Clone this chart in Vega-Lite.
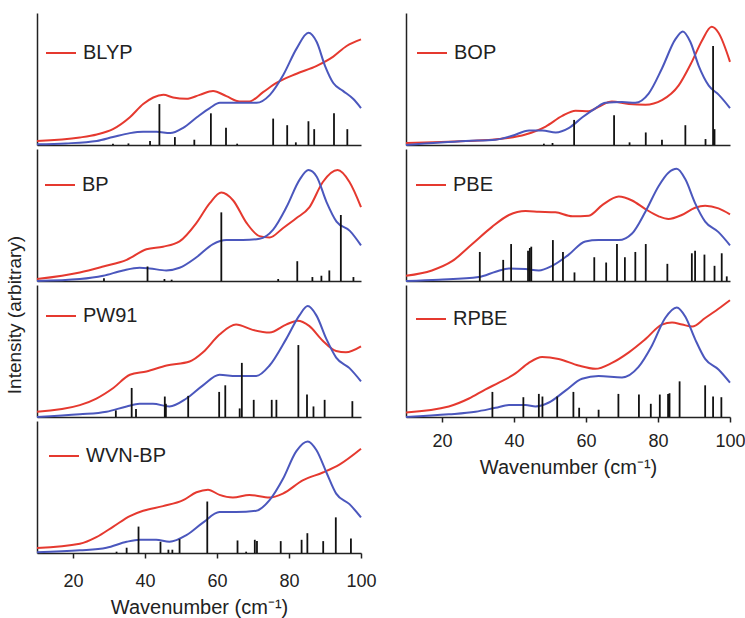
{
  "$schema": "https://vega.github.io/schema/vega-lite/v6.json",
  "background": "white",
  "padding": {"left": 5, "top": 13, "right": 0, "bottom": 2},
  "datasets": {
    "curves": [
      {"m":"BLYP","s":"exp","x":10,"y":0.005},{"m":"BLYP","s":"exp","x":18,"y":0.012},{"m":"BLYP","s":"exp","x":26.6,"y":0.03},{"m":"BLYP","s":"exp","x":31.1,"y":0.06},{"m":"BLYP","s":"exp","x":35.8,"y":0.09},{"m":"BLYP","s":"exp","x":39.5,"y":0.1},{"m":"BLYP","s":"exp","x":43.2,"y":0.1},{"m":"BLYP","s":"exp","x":47,"y":0.09},{"m":"BLYP","s":"exp","x":50.6,"y":0.13},{"m":"BLYP","s":"exp","x":54.4,"y":0.21},{"m":"BLYP","s":"exp","x":58,"y":0.28},{"m":"BLYP","s":"exp","x":60.8,"y":0.32},{"m":"BLYP","s":"exp","x":65.5,"y":0.32},{"m":"BLYP","s":"exp","x":71,"y":0.32},{"m":"BLYP","s":"exp","x":74.7,"y":0.38},{"m":"BLYP","s":"exp","x":78.4,"y":0.53},{"m":"BLYP","s":"exp","x":82.1,"y":0.73},{"m":"BLYP","s":"exp","x":85.4,"y":0.85},{"m":"BLYP","s":"exp","x":87.7,"y":0.78},{"m":"BLYP","s":"exp","x":90,"y":0.6},{"m":"BLYP","s":"exp","x":92.3,"y":0.47},{"m":"BLYP","s":"exp","x":95,"y":0.41},{"m":"BLYP","s":"exp","x":97.8,"y":0.35},{"m":"BLYP","s":"exp","x":100,"y":0.28},
      {"m":"BLYP","s":"calc","x":10,"y":0.03},{"m":"BLYP","s":"calc","x":21.9,"y":0.057},{"m":"BLYP","s":"calc","x":26.6,"y":0.08},{"m":"BLYP","s":"calc","x":31.1,"y":0.12},{"m":"BLYP","s":"calc","x":35.8,"y":0.21},{"m":"BLYP","s":"calc","x":39.5,"y":0.31},{"m":"BLYP","s":"calc","x":42.3,"y":0.36},{"m":"BLYP","s":"calc","x":45.1,"y":0.38},{"m":"BLYP","s":"calc","x":47.8,"y":0.36},{"m":"BLYP","s":"calc","x":51.5,"y":0.35},{"m":"BLYP","s":"calc","x":55.2,"y":0.38},{"m":"BLYP","s":"calc","x":58.9,"y":0.41},{"m":"BLYP","s":"calc","x":62.6,"y":0.37},{"m":"BLYP","s":"calc","x":66.3,"y":0.33},{"m":"BLYP","s":"calc","x":69,"y":0.33},{"m":"BLYP","s":"calc","x":72.8,"y":0.4},{"m":"BLYP","s":"calc","x":76.5,"y":0.47},{"m":"BLYP","s":"calc","x":82.1,"y":0.54},{"m":"BLYP","s":"calc","x":87.7,"y":0.6},{"m":"BLYP","s":"calc","x":92.3,"y":0.67},{"m":"BLYP","s":"calc","x":96,"y":0.75},{"m":"BLYP","s":"calc","x":100,"y":0.8},

      {"m":"BP","s":"exp","x":10,"y":0.0},{"m":"BP","s":"exp","x":21.9,"y":0.015},{"m":"BP","s":"exp","x":28.4,"y":0.04},{"m":"BP","s":"exp","x":33.9,"y":0.08},{"m":"BP","s":"exp","x":38.5,"y":0.1},{"m":"BP","s":"exp","x":41.3,"y":0.095},{"m":"BP","s":"exp","x":45.9,"y":0.08},{"m":"BP","s":"exp","x":49.6,"y":0.1},{"m":"BP","s":"exp","x":54.3,"y":0.18},{"m":"BP","s":"exp","x":58.9,"y":0.28},{"m":"BP","s":"exp","x":62.6,"y":0.31},{"m":"BP","s":"exp","x":67.2,"y":0.31},{"m":"BP","s":"exp","x":71.8,"y":0.32},{"m":"BP","s":"exp","x":75.6,"y":0.39},{"m":"BP","s":"exp","x":79.3,"y":0.56},{"m":"BP","s":"exp","x":83,"y":0.77},{"m":"BP","s":"exp","x":85.4,"y":0.84},{"m":"BP","s":"exp","x":87.7,"y":0.79},{"m":"BP","s":"exp","x":90.4,"y":0.6},{"m":"BP","s":"exp","x":93.2,"y":0.45},{"m":"BP","s":"exp","x":96.9,"y":0.38},{"m":"BP","s":"exp","x":100,"y":0.27},
      {"m":"BP","s":"calc","x":10,"y":0.015},{"m":"BP","s":"calc","x":21.9,"y":0.065},{"m":"BP","s":"calc","x":28.4,"y":0.11},{"m":"BP","s":"calc","x":34.9,"y":0.16},{"m":"BP","s":"calc","x":40.4,"y":0.24},{"m":"BP","s":"calc","x":45,"y":0.26},{"m":"BP","s":"calc","x":49.6,"y":0.3},{"m":"BP","s":"calc","x":54.3,"y":0.44},{"m":"BP","s":"calc","x":58,"y":0.59},{"m":"BP","s":"calc","x":61.2,"y":0.67},{"m":"BP","s":"calc","x":64.5,"y":0.61},{"m":"BP","s":"calc","x":68.2,"y":0.44},{"m":"BP","s":"calc","x":71.8,"y":0.34},{"m":"BP","s":"calc","x":74.6,"y":0.33},{"m":"BP","s":"calc","x":78.3,"y":0.4},{"m":"BP","s":"calc","x":82,"y":0.475},{"m":"BP","s":"calc","x":85.7,"y":0.56},{"m":"BP","s":"calc","x":89.4,"y":0.75},{"m":"BP","s":"calc","x":93.5,"y":0.84},{"m":"BP","s":"calc","x":96.8,"y":0.75},{"m":"BP","s":"calc","x":100,"y":0.56},

      {"m":"PW91","s":"exp","x":10,"y":0.0},{"m":"PW91","s":"exp","x":21.9,"y":0.02},{"m":"PW91","s":"exp","x":29.3,"y":0.04},{"m":"PW91","s":"exp","x":34.9,"y":0.08},{"m":"PW91","s":"exp","x":38.5,"y":0.1},{"m":"PW91","s":"exp","x":42.2,"y":0.1},{"m":"PW91","s":"exp","x":46.8,"y":0.08},{"m":"PW91","s":"exp","x":51.5,"y":0.14},{"m":"PW91","s":"exp","x":56.1,"y":0.24},{"m":"PW91","s":"exp","x":60.7,"y":0.32},{"m":"PW91","s":"exp","x":65.3,"y":0.31},{"m":"PW91","s":"exp","x":70.9,"y":0.31},{"m":"PW91","s":"exp","x":74.6,"y":0.39},{"m":"PW91","s":"exp","x":79.2,"y":0.59},{"m":"PW91","s":"exp","x":82.9,"y":0.77},{"m":"PW91","s":"exp","x":85.2,"y":0.84},{"m":"PW91","s":"exp","x":87.6,"y":0.77},{"m":"PW91","s":"exp","x":90.4,"y":0.59},{"m":"PW91","s":"exp","x":93.1,"y":0.45},{"m":"PW91","s":"exp","x":96.8,"y":0.37},{"m":"PW91","s":"exp","x":100,"y":0.27},
      {"m":"PW91","s":"calc","x":10,"y":0.04},{"m":"PW91","s":"calc","x":21.9,"y":0.09},{"m":"PW91","s":"calc","x":26.5,"y":0.14},{"m":"PW91","s":"calc","x":31.2,"y":0.22},{"m":"PW91","s":"calc","x":35.8,"y":0.32},{"m":"PW91","s":"calc","x":40.4,"y":0.345},{"m":"PW91","s":"calc","x":46,"y":0.39},{"m":"PW91","s":"calc","x":52.4,"y":0.42},{"m":"PW91","s":"calc","x":56.1,"y":0.49},{"m":"PW91","s":"calc","x":60.7,"y":0.625},{"m":"PW91","s":"calc","x":65.3,"y":0.7},{"m":"PW91","s":"calc","x":69.9,"y":0.66},{"m":"PW91","s":"calc","x":74.6,"y":0.64},{"m":"PW91","s":"calc","x":79.2,"y":0.7},{"m":"PW91","s":"calc","x":82.4,"y":0.73},{"m":"PW91","s":"calc","x":85.6,"y":0.69},{"m":"PW91","s":"calc","x":89.3,"y":0.58},{"m":"PW91","s":"calc","x":93.1,"y":0.5},{"m":"PW91","s":"calc","x":95.8,"y":0.49},{"m":"PW91","s":"calc","x":100,"y":0.535},

      {"m":"WVN-BP","s":"exp","x":10,"y":0.005},{"m":"WVN-BP","s":"exp","x":21.9,"y":0.02},{"m":"WVN-BP","s":"exp","x":29.3,"y":0.04},{"m":"WVN-BP","s":"exp","x":34.9,"y":0.085},{"m":"WVN-BP","s":"exp","x":38.5,"y":0.1},{"m":"WVN-BP","s":"exp","x":43.1,"y":0.1},{"m":"WVN-BP","s":"exp","x":46.8,"y":0.085},{"m":"WVN-BP","s":"exp","x":51.5,"y":0.135},{"m":"WVN-BP","s":"exp","x":56.1,"y":0.23},{"m":"WVN-BP","s":"exp","x":60.7,"y":0.31},{"m":"WVN-BP","s":"exp","x":65.3,"y":0.31},{"m":"WVN-BP","s":"exp","x":70.9,"y":0.32},{"m":"WVN-BP","s":"exp","x":74.6,"y":0.4},{"m":"WVN-BP","s":"exp","x":78.3,"y":0.56},{"m":"WVN-BP","s":"exp","x":82,"y":0.77},{"m":"WVN-BP","s":"exp","x":85.2,"y":0.845},{"m":"WVN-BP","s":"exp","x":87.6,"y":0.78},{"m":"WVN-BP","s":"exp","x":90.4,"y":0.61},{"m":"WVN-BP","s":"exp","x":93.1,"y":0.45},{"m":"WVN-BP","s":"exp","x":96.8,"y":0.37},{"m":"WVN-BP","s":"exp","x":100,"y":0.27},
      {"m":"WVN-BP","s":"calc","x":10,"y":0.037},{"m":"WVN-BP","s":"calc","x":21.9,"y":0.07},{"m":"WVN-BP","s":"calc","x":26.5,"y":0.12},{"m":"WVN-BP","s":"calc","x":31.2,"y":0.2},{"m":"WVN-BP","s":"calc","x":35.8,"y":0.28},{"m":"WVN-BP","s":"calc","x":39.5,"y":0.32},{"m":"WVN-BP","s":"calc","x":45,"y":0.355},{"m":"WVN-BP","s":"calc","x":50.6,"y":0.4},{"m":"WVN-BP","s":"calc","x":54.3,"y":0.46},{"m":"WVN-BP","s":"calc","x":57.5,"y":0.48},{"m":"WVN-BP","s":"calc","x":60.7,"y":0.44},{"m":"WVN-BP","s":"calc","x":64.4,"y":0.42},{"m":"WVN-BP","s":"calc","x":69,"y":0.44},{"m":"WVN-BP","s":"calc","x":74.6,"y":0.42},{"m":"WVN-BP","s":"calc","x":78.3,"y":0.45},{"m":"WVN-BP","s":"calc","x":83.8,"y":0.55},{"m":"WVN-BP","s":"calc","x":89.4,"y":0.61},{"m":"WVN-BP","s":"calc","x":94,"y":0.67},{"m":"WVN-BP","s":"calc","x":100,"y":0.79},

      {"m":"BOP","s":"exp","x":10,"y":0.0},{"m":"BOP","s":"exp","x":26.6,"y":0.03},{"m":"BOP","s":"exp","x":34.9,"y":0.04},{"m":"BOP","s":"exp","x":39.5,"y":0.07},{"m":"BOP","s":"exp","x":44.2,"y":0.11},{"m":"BOP","s":"exp","x":47.9,"y":0.11},{"m":"BOP","s":"exp","x":51.6,"y":0.095},{"m":"BOP","s":"exp","x":55.3,"y":0.13},{"m":"BOP","s":"exp","x":59,"y":0.21},{"m":"BOP","s":"exp","x":62.7,"y":0.28},{"m":"BOP","s":"exp","x":65.4,"y":0.32},{"m":"BOP","s":"exp","x":70,"y":0.325},{"m":"BOP","s":"exp","x":73.7,"y":0.32},{"m":"BOP","s":"exp","x":77.4,"y":0.39},{"m":"BOP","s":"exp","x":81.1,"y":0.58},{"m":"BOP","s":"exp","x":84.8,"y":0.8},{"m":"BOP","s":"exp","x":86.9,"y":0.86},{"m":"BOP","s":"exp","x":89,"y":0.78},{"m":"BOP","s":"exp","x":91.3,"y":0.6},{"m":"BOP","s":"exp","x":94.1,"y":0.45},{"m":"BOP","s":"exp","x":96.9,"y":0.38},{"m":"BOP","s":"exp","x":100,"y":0.28},
      {"m":"BOP","s":"calc","x":10,"y":0.015},{"m":"BOP","s":"calc","x":26.6,"y":0.03},{"m":"BOP","s":"calc","x":35.8,"y":0.045},{"m":"BOP","s":"calc","x":43.2,"y":0.08},{"m":"BOP","s":"calc","x":48.8,"y":0.14},{"m":"BOP","s":"calc","x":53.4,"y":0.22},{"m":"BOP","s":"calc","x":57.1,"y":0.26},{"m":"BOP","s":"calc","x":60.8,"y":0.255},{"m":"BOP","s":"calc","x":63.5,"y":0.29},{"m":"BOP","s":"calc","x":67.2,"y":0.33},{"m":"BOP","s":"calc","x":71.9,"y":0.31},{"m":"BOP","s":"calc","x":76.5,"y":0.305},{"m":"BOP","s":"calc","x":81.1,"y":0.34},{"m":"BOP","s":"calc","x":85.7,"y":0.45},{"m":"BOP","s":"calc","x":89.4,"y":0.63},{"m":"BOP","s":"calc","x":92.2,"y":0.79},{"m":"BOP","s":"calc","x":94.9,"y":0.895},{"m":"BOP","s":"calc","x":96.8,"y":0.85},{"m":"BOP","s":"calc","x":100,"y":0.63},

      {"m":"PBE","s":"exp","x":10,"y":0.0},{"m":"PBE","s":"exp","x":19.1,"y":0.01},{"m":"PBE","s":"exp","x":30.2,"y":0.03},{"m":"PBE","s":"exp","x":34.9,"y":0.07},{"m":"PBE","s":"exp","x":38.6,"y":0.095},{"m":"PBE","s":"exp","x":43.2,"y":0.09},{"m":"PBE","s":"exp","x":46.9,"y":0.08},{"m":"PBE","s":"exp","x":50.6,"y":0.115},{"m":"PBE","s":"exp","x":55.2,"y":0.2},{"m":"PBE","s":"exp","x":59.8,"y":0.3},{"m":"PBE","s":"exp","x":63.5,"y":0.31},{"m":"PBE","s":"exp","x":69.1,"y":0.31},{"m":"PBE","s":"exp","x":72.8,"y":0.36},{"m":"PBE","s":"exp","x":76.5,"y":0.525},{"m":"PBE","s":"exp","x":80.2,"y":0.72},{"m":"PBE","s":"exp","x":82.9,"y":0.82},{"m":"PBE","s":"exp","x":85.2,"y":0.85},{"m":"PBE","s":"exp","x":87.6,"y":0.77},{"m":"PBE","s":"exp","x":90.3,"y":0.59},{"m":"PBE","s":"exp","x":93.1,"y":0.45},{"m":"PBE","s":"exp","x":96.8,"y":0.37},{"m":"PBE","s":"exp","x":100,"y":0.27},
      {"m":"PBE","s":"calc","x":10,"y":0.04},{"m":"PBE","s":"calc","x":17.2,"y":0.08},{"m":"PBE","s":"calc","x":22.8,"y":0.15},{"m":"PBE","s":"calc","x":28.4,"y":0.28},{"m":"PBE","s":"calc","x":33.9,"y":0.41},{"m":"PBE","s":"calc","x":38.6,"y":0.5},{"m":"PBE","s":"calc","x":43.2,"y":0.53},{"m":"PBE","s":"calc","x":46.9,"y":0.525},{"m":"PBE","s":"calc","x":51.5,"y":0.52},{"m":"PBE","s":"calc","x":56.2,"y":0.49},{"m":"PBE","s":"calc","x":60.8,"y":0.495},{"m":"PBE","s":"calc","x":64.5,"y":0.575},{"m":"PBE","s":"calc","x":69.1,"y":0.64},{"m":"PBE","s":"calc","x":72.8,"y":0.61},{"m":"PBE","s":"calc","x":76.5,"y":0.545},{"m":"PBE","s":"calc","x":80.2,"y":0.49},{"m":"PBE","s":"calc","x":82.9,"y":0.47},{"m":"PBE","s":"calc","x":86.6,"y":0.5},{"m":"PBE","s":"calc","x":90.3,"y":0.555},{"m":"PBE","s":"calc","x":93.1,"y":0.57},{"m":"PBE","s":"calc","x":96.8,"y":0.55},{"m":"PBE","s":"calc","x":100,"y":0.505},

      {"m":"RPBE","s":"exp","x":10,"y":0.0},{"m":"RPBE","s":"exp","x":21.9,"y":0.02},{"m":"RPBE","s":"exp","x":29.3,"y":0.04},{"m":"RPBE","s":"exp","x":34.9,"y":0.07},{"m":"RPBE","s":"exp","x":38.6,"y":0.09},{"m":"RPBE","s":"exp","x":43.2,"y":0.09},{"m":"RPBE","s":"exp","x":46,"y":0.08},{"m":"RPBE","s":"exp","x":49.7,"y":0.11},{"m":"RPBE","s":"exp","x":54.3,"y":0.2},{"m":"RPBE","s":"exp","x":58.9,"y":0.29},{"m":"RPBE","s":"exp","x":63.5,"y":0.31},{"m":"RPBE","s":"exp","x":70,"y":0.3},{"m":"RPBE","s":"exp","x":74.6,"y":0.38},{"m":"RPBE","s":"exp","x":78.3,"y":0.54},{"m":"RPBE","s":"exp","x":82,"y":0.75},{"m":"RPBE","s":"exp","x":85.2,"y":0.83},{"m":"RPBE","s":"exp","x":87.6,"y":0.76},{"m":"RPBE","s":"exp","x":90.3,"y":0.59},{"m":"RPBE","s":"exp","x":93.1,"y":0.44},{"m":"RPBE","s":"exp","x":96.8,"y":0.36},{"m":"RPBE","s":"exp","x":100,"y":0.26},
      {"m":"RPBE","s":"calc","x":10,"y":0.035},{"m":"RPBE","s":"calc","x":21.9,"y":0.08},{"m":"RPBE","s":"calc","x":27.5,"y":0.14},{"m":"RPBE","s":"calc","x":32.1,"y":0.21},{"m":"RPBE","s":"calc","x":35.8,"y":0.26},{"m":"RPBE","s":"calc","x":40.4,"y":0.33},{"m":"RPBE","s":"calc","x":44.1,"y":0.41},{"m":"RPBE","s":"calc","x":47.8,"y":0.455},{"m":"RPBE","s":"calc","x":52.4,"y":0.44},{"m":"RPBE","s":"calc","x":57.9,"y":0.39},{"m":"RPBE","s":"calc","x":62.6,"y":0.365},{"m":"RPBE","s":"calc","x":67.2,"y":0.41},{"m":"RPBE","s":"calc","x":71.9,"y":0.49},{"m":"RPBE","s":"calc","x":76.5,"y":0.59},{"m":"RPBE","s":"calc","x":81.1,"y":0.7},{"m":"RPBE","s":"calc","x":83.9,"y":0.715},{"m":"RPBE","s":"calc","x":86.7,"y":0.7},{"m":"RPBE","s":"calc","x":89.5,"y":0.685},{"m":"RPBE","s":"calc","x":93.1,"y":0.75},{"m":"RPBE","s":"calc","x":96.8,"y":0.82},{"m":"RPBE","s":"calc","x":100,"y":0.885}
    ],
    "sticks": [
      {"m":"BLYP","x":31.1,"y":0.01},{"m":"BLYP","x":35.4,"y":0.012},{"m":"BLYP","x":41.4,"y":0.03},{"m":"BLYP","x":44,"y":0.31},{"m":"BLYP","x":48.3,"y":0.06},{"m":"BLYP","x":53.7,"y":0.04},{"m":"BLYP","x":58.3,"y":0.24},{"m":"BLYP","x":62.5,"y":0.13},{"m":"BLYP","x":65.6,"y":0.01},{"m":"BLYP","x":75.6,"y":0.2},{"m":"BLYP","x":79.5,"y":0.15},{"m":"BLYP","x":81.9,"y":0.02},{"m":"BLYP","x":85.4,"y":0.18},{"m":"BLYP","x":87,"y":0.12},{"m":"BLYP","x":92.5,"y":0.24},{"m":"BLYP","x":96.2,"y":0.12},
      {"m":"BP","x":28.6,"y":0.02},{"m":"BP","x":40.7,"y":0.11},{"m":"BP","x":45.4,"y":0.015},{"m":"BP","x":47.4,"y":0.01},{"m":"BP","x":61.2,"y":0.52},{"m":"BP","x":77,"y":0.015},{"m":"BP","x":82.3,"y":0.15},{"m":"BP","x":86.5,"y":0.03},{"m":"BP","x":89,"y":0.04},{"m":"BP","x":91.2,"y":0.08},{"m":"BP","x":94.4,"y":0.5},{"m":"BP","x":97.9,"y":0.03},
      {"m":"PW91","x":31.9,"y":0.05},{"m":"PW91","x":36.3,"y":0.22},{"m":"PW91","x":37.5,"y":0.06},{"m":"PW91","x":45.5,"y":0.155},{"m":"PW91","x":45.8,"y":0.1},{"m":"PW91","x":52,"y":0.16},{"m":"PW91","x":60.6,"y":0.19},{"m":"PW91","x":62.3,"y":0.24},{"m":"PW91","x":66.3,"y":0.065},{"m":"PW91","x":66.9,"y":0.41},{"m":"PW91","x":70.2,"y":0.13},{"m":"PW91","x":75.2,"y":0.13},{"m":"PW91","x":76.5,"y":0.13},{"m":"PW91","x":82.6,"y":0.545},{"m":"PW91","x":85,"y":0.17},{"m":"PW91","x":86.8,"y":0.08},{"m":"PW91","x":89.9,"y":0.13},{"m":"PW91","x":97.6,"y":0.12},
      {"m":"WVN-BP","x":32.1,"y":0.01},{"m":"WVN-BP","x":34.9,"y":0.04},{"m":"WVN-BP","x":38.2,"y":0.2},{"m":"WVN-BP","x":44.3,"y":0.085},{"m":"WVN-BP","x":46.5,"y":0.025},{"m":"WVN-BP","x":47.6,"y":0.025},{"m":"WVN-BP","x":49.6,"y":0.105},{"m":"WVN-BP","x":57.3,"y":0.39},{"m":"WVN-BP","x":65.7,"y":0.095},{"m":"WVN-BP","x":68.1,"y":0.01},{"m":"WVN-BP","x":70.5,"y":0.1},{"m":"WVN-BP","x":71.1,"y":0.09},{"m":"WVN-BP","x":77.7,"y":0.09},{"m":"WVN-BP","x":83.5,"y":0.1},{"m":"WVN-BP","x":85.1,"y":0.15},{"m":"WVN-BP","x":89.5,"y":0.09},{"m":"WVN-BP","x":93,"y":0.27},{"m":"WVN-BP","x":97.2,"y":0.11},
      {"m":"BOP","x":48.3,"y":0.01},{"m":"BOP","x":50.7,"y":0.015},{"m":"BOP","x":56.7,"y":0.19},{"m":"BOP","x":67.8,"y":0.225},{"m":"BOP","x":72.1,"y":0.02},{"m":"BOP","x":76.6,"y":0.095},{"m":"BOP","x":81.1,"y":0.04},{"m":"BOP","x":87.6,"y":0.15},{"m":"BOP","x":93.2,"y":0.045},{"m":"BOP","x":95.3,"y":0.75},{"m":"BOP","x":95.7,"y":0.12},
      {"m":"PBE","x":30.5,"y":0.22},{"m":"PBE","x":37,"y":0.16},{"m":"PBE","x":39.2,"y":0.28},{"m":"PBE","x":43.9,"y":0.23},{"m":"PBE","x":44.4,"y":0.25},{"m":"PBE","x":44.8,"y":0.26},{"m":"PBE","x":50.8,"y":0.31},{"m":"PBE","x":53.6,"y":0.22},{"m":"PBE","x":56.8,"y":0.065},{"m":"PBE","x":62.3,"y":0.18},{"m":"PBE","x":65.6,"y":0.14},{"m":"PBE","x":68.6,"y":0.28},{"m":"PBE","x":70.8,"y":0.18},{"m":"PBE","x":73.7,"y":0.22},{"m":"PBE","x":76.6,"y":0.28},{"m":"PBE","x":82.6,"y":0.13},{"m":"PBE","x":89.4,"y":0.21},{"m":"PBE","x":90.3,"y":0.23},{"m":"PBE","x":92.9,"y":0.2},{"m":"PBE","x":95.7,"y":0.115},{"m":"PBE","x":97.7,"y":0.21},{"m":"PBE","x":99.1,"y":0.035},
      {"m":"RPBE","x":34,"y":0.19},{"m":"RPBE","x":42.6,"y":0.15},{"m":"RPBE","x":46.9,"y":0.175},{"m":"RPBE","x":47.9,"y":0.155},{"m":"RPBE","x":52,"y":0.155},{"m":"RPBE","x":56.5,"y":0.19},{"m":"RPBE","x":58.1,"y":0.07},{"m":"RPBE","x":63.5,"y":0.055},{"m":"RPBE","x":69,"y":0.175},{"m":"RPBE","x":74.7,"y":0.17},{"m":"RPBE","x":78,"y":0.1},{"m":"RPBE","x":80.5,"y":0.17},{"m":"RPBE","x":82.8,"y":0.175},{"m":"RPBE","x":83.2,"y":0.18},{"m":"RPBE","x":86,"y":0.27},{"m":"RPBE","x":93.1,"y":0.24},{"m":"RPBE","x":95.3,"y":0.155},{"m":"RPBE","x":97.6,"y":0.15}
    ]
  },
  "hconcat": [
    {
      "title": {"text": "Intensity (arbitrary)", "orient": "left", "anchor": "middle", "fontSize": 19, "fontWeight": "normal", "font": "Liberation Sans", "color": "#222", "offset": 8},
      "spacing": 0,
      "resolve": {"scale": {"stroke": "independent"}, "legend": {"stroke": "independent"}},
      "vconcat": [
        {"width": 324, "height": 132, "layer": [
          {"data": {"name": "curves"}, "transform": [{"filter": "datum.m === 'BLYP' && datum.s === 'calc'"}], "mark": {"type": "line", "interpolate": "monotone", "strokeWidth": 2},
           "encoding": {"x": {"field": "x", "type": "quantitative", "scale": {"domain": [10, 100], "nice": false, "zero": false}, "axis": {"title": null, "labels": false, "ticks": false}},
                        "y": {"field": "y", "type": "quantitative", "scale": {"domain": [0, 1], "nice": false}, "axis": {"title": null, "labels": false, "ticks": false}},
                        "stroke": {"datum": "BLYP", "type": "nominal", "scale": {"range": ["#e5392f"]}, "legend": {"legendX": 8, "legendY": 24}}}},
          {"data": {"name": "curves"}, "transform": [{"filter": "datum.m === 'BLYP' && datum.s === 'exp'"}], "mark": {"type": "line", "interpolate": "monotone", "strokeWidth": 2, "color": "#4b57bd"},
           "encoding": {"x": {"field": "x", "type": "quantitative"}, "y": {"field": "y", "type": "quantitative"}}},
          {"data": {"name": "sticks"}, "transform": [{"filter": "datum.m === 'BLYP'"}], "mark": {"type": "rule", "color": "#111", "strokeWidth": 1.8},
           "encoding": {"x": {"field": "x", "type": "quantitative"}, "y": {"field": "y", "type": "quantitative"}, "y2": {"datum": 0}}}
        ]},
        {"width": 324, "height": 132, "layer": [
          {"data": {"name": "curves"}, "transform": [{"filter": "datum.m === 'BP' && datum.s === 'calc'"}], "mark": {"type": "line", "interpolate": "monotone", "strokeWidth": 2},
           "encoding": {"x": {"field": "x", "type": "quantitative", "scale": {"domain": [10, 100], "nice": false, "zero": false}, "axis": {"title": null, "labels": false, "ticks": false}},
                        "y": {"field": "y", "type": "quantitative", "scale": {"domain": [0, 1], "nice": false}, "axis": {"title": null, "labels": false, "ticks": false}},
                        "stroke": {"datum": "BP", "type": "nominal", "scale": {"range": ["#e5392f"]}, "legend": {"legendX": 7, "legendY": 20}}}},
          {"data": {"name": "curves"}, "transform": [{"filter": "datum.m === 'BP' && datum.s === 'exp'"}], "mark": {"type": "line", "interpolate": "monotone", "strokeWidth": 2, "color": "#4b57bd"},
           "encoding": {"x": {"field": "x", "type": "quantitative"}, "y": {"field": "y", "type": "quantitative"}}},
          {"data": {"name": "sticks"}, "transform": [{"filter": "datum.m === 'BP'"}], "mark": {"type": "rule", "color": "#111", "strokeWidth": 1.8},
           "encoding": {"x": {"field": "x", "type": "quantitative"}, "y": {"field": "y", "type": "quantitative"}, "y2": {"datum": 0}}}
        ]},
        {"width": 324, "height": 132, "layer": [
          {"data": {"name": "curves"}, "transform": [{"filter": "datum.m === 'PW91' && datum.s === 'calc'"}], "mark": {"type": "line", "interpolate": "monotone", "strokeWidth": 2},
           "encoding": {"x": {"field": "x", "type": "quantitative", "scale": {"domain": [10, 100], "nice": false, "zero": false}, "axis": {"title": null, "labels": false, "ticks": false}},
                        "y": {"field": "y", "type": "quantitative", "scale": {"domain": [0, 1], "nice": false}, "axis": {"title": null, "labels": false, "ticks": false}},
                        "stroke": {"datum": "PW91", "type": "nominal", "scale": {"range": ["#e5392f"]}, "legend": {"legendX": 8, "legendY": 15}}}},
          {"data": {"name": "curves"}, "transform": [{"filter": "datum.m === 'PW91' && datum.s === 'exp'"}], "mark": {"type": "line", "interpolate": "monotone", "strokeWidth": 2, "color": "#4b57bd"},
           "encoding": {"x": {"field": "x", "type": "quantitative"}, "y": {"field": "y", "type": "quantitative"}}},
          {"data": {"name": "sticks"}, "transform": [{"filter": "datum.m === 'PW91'"}], "mark": {"type": "rule", "color": "#111", "strokeWidth": 1.8},
           "encoding": {"x": {"field": "x", "type": "quantitative"}, "y": {"field": "y", "type": "quantitative"}, "y2": {"datum": 0}}}
        ]},
        {"width": 324, "height": 132, "layer": [
          {"data": {"name": "curves"}, "transform": [{"filter": "datum.m === 'WVN-BP' && datum.s === 'calc'"}], "mark": {"type": "line", "interpolate": "monotone", "strokeWidth": 2},
           "encoding": {"x": {"field": "x", "type": "quantitative", "scale": {"domain": [10, 100], "nice": false, "zero": false}, "axis": {"title": "Wavenumber (cm⁻¹)", "values": [20, 40, 60, 80, 100], "labelFlush": false, "tickSize": 5, "labelPadding": 14, "titlePadding": 7}},
                        "y": {"field": "y", "type": "quantitative", "scale": {"domain": [0, 1], "nice": false}, "axis": {"title": null, "labels": false, "ticks": false}},
                        "stroke": {"datum": "WVN-BP", "type": "nominal", "scale": {"range": ["#e5392f"]}, "legend": {"legendX": 11, "legendY": 19}}}},
          {"data": {"name": "curves"}, "transform": [{"filter": "datum.m === 'WVN-BP' && datum.s === 'exp'"}], "mark": {"type": "line", "interpolate": "monotone", "strokeWidth": 2, "color": "#4b57bd"},
           "encoding": {"x": {"field": "x", "type": "quantitative"}, "y": {"field": "y", "type": "quantitative"}}},
          {"data": {"name": "sticks"}, "transform": [{"filter": "datum.m === 'WVN-BP'"}], "mark": {"type": "rule", "color": "#111", "strokeWidth": 1.8},
           "encoding": {"x": {"field": "x", "type": "quantitative"}, "y": {"field": "y", "type": "quantitative"}, "y2": {"datum": 0}}}
        ]}
      ]
    },
    {
      "spacing": 0,
      "resolve": {"scale": {"stroke": "independent"}, "legend": {"stroke": "independent"}},
      "vconcat": [
        {"width": 324, "height": 132, "layer": [
          {"data": {"name": "curves"}, "transform": [{"filter": "datum.m === 'BOP' && datum.s === 'calc'"}], "mark": {"type": "line", "interpolate": "monotone", "strokeWidth": 2},
           "encoding": {"x": {"field": "x", "type": "quantitative", "scale": {"domain": [10, 100], "nice": false, "zero": false}, "axis": {"title": null, "labels": false, "ticks": false}},
                        "y": {"field": "y", "type": "quantitative", "scale": {"domain": [0, 1], "nice": false}, "axis": {"title": null, "labels": false, "ticks": false}},
                        "stroke": {"datum": "BOP", "type": "nominal", "scale": {"range": ["#e5392f"]}, "legend": {"legendX": 10, "legendY": 24}}}},
          {"data": {"name": "curves"}, "transform": [{"filter": "datum.m === 'BOP' && datum.s === 'exp'"}], "mark": {"type": "line", "interpolate": "monotone", "strokeWidth": 2, "color": "#4b57bd"},
           "encoding": {"x": {"field": "x", "type": "quantitative"}, "y": {"field": "y", "type": "quantitative"}}},
          {"data": {"name": "sticks"}, "transform": [{"filter": "datum.m === 'BOP'"}], "mark": {"type": "rule", "color": "#111", "strokeWidth": 1.8},
           "encoding": {"x": {"field": "x", "type": "quantitative"}, "y": {"field": "y", "type": "quantitative"}, "y2": {"datum": 0}}}
        ]},
        {"width": 324, "height": 132, "layer": [
          {"data": {"name": "curves"}, "transform": [{"filter": "datum.m === 'PBE' && datum.s === 'calc'"}], "mark": {"type": "line", "interpolate": "monotone", "strokeWidth": 2},
           "encoding": {"x": {"field": "x", "type": "quantitative", "scale": {"domain": [10, 100], "nice": false, "zero": false}, "axis": {"title": null, "labels": false, "ticks": false}},
                        "y": {"field": "y", "type": "quantitative", "scale": {"domain": [0, 1], "nice": false}, "axis": {"title": null, "labels": false, "ticks": false}},
                        "stroke": {"datum": "PBE", "type": "nominal", "scale": {"range": ["#e5392f"]}, "legend": {"legendX": 9, "legendY": 20}}}},
          {"data": {"name": "curves"}, "transform": [{"filter": "datum.m === 'PBE' && datum.s === 'exp'"}], "mark": {"type": "line", "interpolate": "monotone", "strokeWidth": 2, "color": "#4b57bd"},
           "encoding": {"x": {"field": "x", "type": "quantitative"}, "y": {"field": "y", "type": "quantitative"}}},
          {"data": {"name": "sticks"}, "transform": [{"filter": "datum.m === 'PBE'"}], "mark": {"type": "rule", "color": "#111", "strokeWidth": 1.8},
           "encoding": {"x": {"field": "x", "type": "quantitative"}, "y": {"field": "y", "type": "quantitative"}, "y2": {"datum": 0}}}
        ]},
        {"width": 324, "height": 132, "layer": [
          {"data": {"name": "curves"}, "transform": [{"filter": "datum.m === 'RPBE' && datum.s === 'calc'"}], "mark": {"type": "line", "interpolate": "monotone", "strokeWidth": 2},
           "encoding": {"x": {"field": "x", "type": "quantitative", "scale": {"domain": [10, 100], "nice": false, "zero": false}, "axis": {"title": "Wavenumber (cm⁻¹)", "values": [20, 40, 60, 80, 100], "labelFlush": false, "tickSize": 5, "labelPadding": 10, "titlePadding": 7}},
                        "y": {"field": "y", "type": "quantitative", "scale": {"domain": [0, 1], "nice": false}, "axis": {"title": null, "labels": false, "ticks": false}},
                        "stroke": {"datum": "RPBE", "type": "nominal", "scale": {"range": ["#e5392f"]}, "legend": {"legendX": 9, "legendY": 18}}}},
          {"data": {"name": "curves"}, "transform": [{"filter": "datum.m === 'RPBE' && datum.s === 'exp'"}], "mark": {"type": "line", "interpolate": "monotone", "strokeWidth": 2, "color": "#4b57bd"},
           "encoding": {"x": {"field": "x", "type": "quantitative"}, "y": {"field": "y", "type": "quantitative"}}},
          {"data": {"name": "sticks"}, "transform": [{"filter": "datum.m === 'RPBE'"}], "mark": {"type": "rule", "color": "#111", "strokeWidth": 1.8},
           "encoding": {"x": {"field": "x", "type": "quantitative"}, "y": {"field": "y", "type": "quantitative"}, "y2": {"datum": 0}}}
        ]}
      ]
    }
  ],
  "spacing": 25,
  "resolve": {"scale": {"stroke": "independent"}, "legend": {"stroke": "independent"}},
  "config": {
    "font": "Liberation Sans",
    "view": {"stroke": null},
    "axis": {"grid": false, "domainColor": "#222", "domainWidth": 1.5, "tickColor": "#222", "tickWidth": 1.5, "labelColor": "#222", "titleColor": "#222", "labelFontSize": 18, "titleFontSize": 20, "titleFontWeight": "normal", "labelFont": "Liberation Sans", "titleFont": "Liberation Sans"},
    "legend": {"orient": "none", "title": null, "symbolType": "stroke", "symbolSize": 900, "symbolStrokeWidth": 2, "labelFontSize": 20, "labelFont": "Liberation Sans", "labelColor": "#222", "labelOffset": 6, "padding": 0}
  }
}
